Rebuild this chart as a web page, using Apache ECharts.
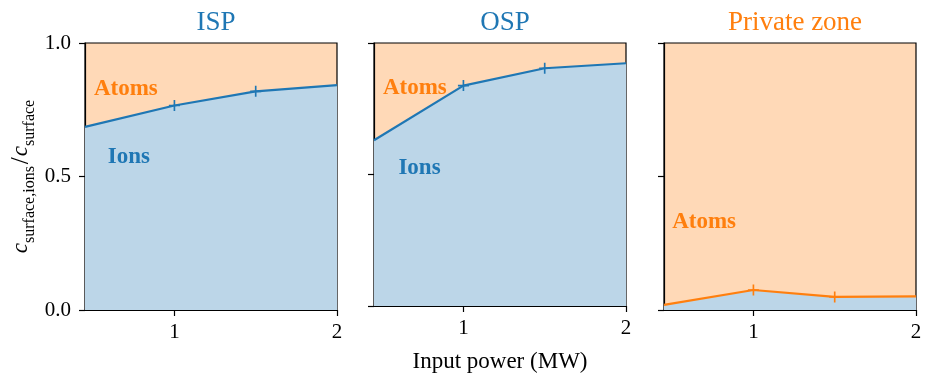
<!DOCTYPE html>
<html><head><meta charset="utf-8">
<script src="https://cdn.jsdelivr.net/npm/echarts@6/dist/echarts.min.js"></script>
<style>html,body{margin:0;padding:0;background:#fff}#c{width:927px;height:378px}</style>
</head><body><div id="c"></div>
<script>
// ---- data ----
const inputPower = [0.45, 1, 1.5, 2];
const ispIonFraction = [0.686, 0.766, 0.819, 0.842];
const ospIonFraction = [0.630, 0.838, 0.904, 0.923];
const privateIonFraction = [0.019, 0.075, 0.049, 0.051];
const panelTitles = ['ISP', 'OSP', 'Private zone'];
const xTickValues = [1, 2];
const yTickValues = [0, 0.5, 1];
// annotation anchors (data space) per panel: [label, x, y]
const ispNotes = [['Atoms', 0.505, 0.827], ['Ions', 0.59, 0.572]];
const ospNotes = [['Atoms', 0.505, 0.827], ['Ions', 0.60, 0.524]];
const privateNotes = [['Atoms', 0.50, 0.329]];

const BLUE = '#1f77b4', ORANGE = '#ff7f0e';
const FONT = 'Liberation Serif';
const PLUS = 'path://M8.5,0h3v8.5h8.5v3h-8.5v8.5h-3v-8.5h-8.5v-3h8.5z';

const panels = [
  {title: panelTitles[0], ys: ispIonFraction, color: BLUE, titleColor: BLUE, notes: ispNotes, left: 85},
  {title: panelTitles[1], ys: ospIonFraction, color: BLUE, titleColor: BLUE, notes: ospNotes, left: 374},
  {title: panelTitles[2], ys: privateIonFraction, color: ORANGE, titleColor: ORANGE, notes: privateNotes, left: 664}
];
const W = 252, TOP = 43, H = 267;

const grids = [], xAxes = [], yAxes = [], series = [], titles = [];
panels.forEach((p, i) => {
  grids.push({left: p.left, top: TOP, width: W, height: H, show: true,
    backgroundColor: '#ffd9b7', borderColor: '#000', borderWidth: 1.2, containLabel: false});
  titles.push({text: p.title, left: p.left + W / 2, top: 4, textAlign: 'center',
    textStyle: {fontFamily: FONT, fontSize: 27, fontWeight: 'normal', color: p.titleColor}});
  xAxes.push({type: 'value', gridIndex: i, min: inputPower[0], max: inputPower[inputPower.length - 1],
    axisLine: {show: true, onZero: false, lineStyle: {color: '#000', width: 1.2}},
    axisTick: {show: true, customValues: xTickValues, length: 6, lineStyle: {color: '#000', width: 1.2}},
    axisLabel: {show: true, customValues: xTickValues, margin: 12, fontFamily: FONT, fontSize: 21, color: '#000'},
    splitLine: {show: false},
    name: i === 1 ? 'Input power (MW)' : '', nameLocation: 'middle', nameGap: 44,
    nameTextStyle: {fontFamily: FONT, fontSize: 23, color: '#000'}});
  yAxes.push({type: 'value', gridIndex: i, min: 0, max: 1,
    axisLine: {show: true, lineStyle: {color: '#000', width: 1.2}},
    axisTick: {show: true, customValues: yTickValues, length: 6, lineStyle: {color: '#000', width: 1.2}},
    axisLabel: {show: i === 0, customValues: yTickValues, margin: 14, fontFamily: FONT, fontSize: 21, color: '#000',
      formatter: v => v.toFixed(1)},
    splitLine: {show: false},
    name: i === 0 ? '{c|c}{s|surface,ions}{sl|/}{c|c}{s|surface}' : '',
    nameLocation: 'middle', nameRotate: 90, nameGap: 47,
    nameTextStyle: {fontFamily: FONT, color: '#000', rich: {
      c: {fontFamily: FONT, fontStyle: 'italic', fontSize: 23, lineHeight: 34, verticalAlign: 'middle'},
      s: {fontFamily: FONT, fontSize: 16, lineHeight: 17, verticalAlign: 'bottom'},
      sl: {fontFamily: FONT, fontSize: 25, lineHeight: 34, verticalAlign: 'middle', padding: [0, 1, 0, 2]}
    }}});
  const last = inputPower.length - 1;
  series.push({type: 'line', xAxisIndex: i, yAxisIndex: i,
    data: inputPower.map((x, k) => [x, p.ys[k]]),
    symbol: (v, params) => (params.dataIndex === 0 || params.dataIndex === last) ? 'none' : PLUS,
    symbolSize: 11, symbolKeepAspect: true,
    itemStyle: {color: p.color},
    lineStyle: {color: p.color, width: 2.2},
    areaStyle: {color: '#bcd6e8', opacity: 1},
    clip: true, z: 2, animation: false});
  series.push({type: 'scatter', xAxisIndex: i, yAxisIndex: i, symbolSize: 0, z: 5, animation: false,
    data: p.notes.map(n => ({name: n[0], value: [n[1], n[2]],
      label: {color: n[0] === 'Atoms' ? ORANGE : BLUE}})),
    label: {show: true, position: 'inside', align: 'left', verticalAlign: 'middle', formatter: '{b}',
      fontFamily: FONT, fontWeight: 'bold', fontSize: 23, opacity: 1},
    itemStyle: {color: '#000', opacity: 1}});
});

const chart = echarts.init(document.getElementById('c'), null, {renderer: 'canvas'});
chart.setOption({animation: false, backgroundColor: '#fff', title: titles, grid: grids,
  xAxis: xAxes, yAxis: yAxes, series: series});
</script></body></html>
